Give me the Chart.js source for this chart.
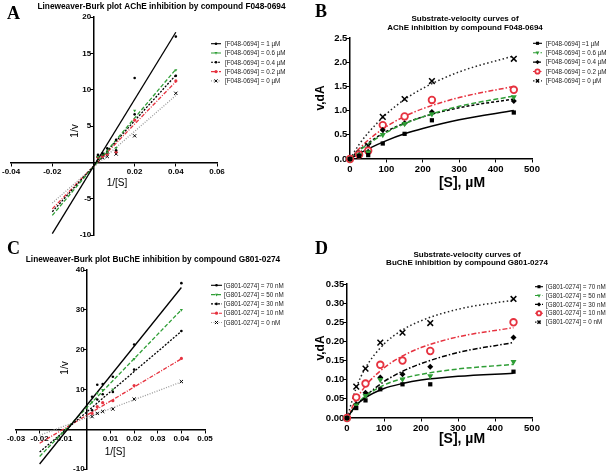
<!DOCTYPE html>
<html>
<head>
<meta charset="utf-8">
<script src="https://cdn.jsdelivr.net/npm/chart.js@4.4.1/dist/chart.umd.min.js"></script>
<style>
html, body { margin: 0; padding: 0; background: #fff; }
#wrap { position: relative; width: 614px; height: 476px; overflow: hidden; }
canvas { position: absolute; left: 0; top: 0; }
</style>
</head>
<body>
<div id="wrap">
  <canvas id="cA" width="614" height="476"></canvas>
  <canvas id="cB" width="614" height="476"></canvas>
  <canvas id="cC" width="614" height="476"></canvas>
  <canvas id="cD" width="614" height="476"></canvas>
</div>
<script>
// ---- values ----
const invS = [0.04, 0.02, 0.011, 0.0067, 0.0044, 0.0022];   // 1/[S] of the measured points
const fitX = [-0.02, 0.04];                                  // ends of the Lineweaver-Burk fits
const sPts = [0, 25, 50, 90, 150, 225, 450];                 // [S], uM
const sFit = [0, 25, 50, 100, 150, 200, 300, 450];           // where the fitted curves were read

// A : AChE, F048-0694
const aLabels = ['[F048-0694] = 1 µM', '[F048-0694] = 0.6 µM', '[F048-0694] = 0.4 µM', '[F048-0694] = 0.2 µM', '[F048-0694] = 0 µM'];
const aPts = [
  [17.3, 11.6, 3.1, 1.92, 1.25, 1.04],
  [12.7, 7.1, 2.0, 1.37, 1.08, 0.78],
  [11.9, 6.6, 1.67, 1.35, 1.03, 0.83],
  [11.2, 5.8, 1.43, 1.14, 0.82, 0.70],
  [9.5, 3.65, 1.15, 0.81, 0.62, 0.48]
];
const aFit = [[-9.8, 17.9], [-7.3, 12.8], [-6.8, 12.0], [-6.4, 11.1], [-5.6, 9.2]];

// B : AChE substrate-velocity
const bLabels = ['[F048-0694] =1 µM', '[F048-0694] = 0.6 µM', '[F048-0694] = 0.4 µM', '[F048-0694] = 0.2 µM', '[F048-0694] = 0 µM'];
const bPts = [
  [0, 0.06, 0.08, 0.32, 0.52, 0.80, 0.96],
  [0, 0.08, 0.14, 0.50, 0.73, 0.93, 1.28],
  [0, 0.085, 0.15, 0.60, 0.74, 0.97, 1.20],
  [0, 0.09, 0.17, 0.70, 0.88, 1.22, 1.43],
  [0, 0.11, 0.27, 0.87, 1.24, 1.61, 2.07]
];
const bFit = [
  [0, 0.11, 0.21, 0.38, 0.52, 0.63, 0.81, 1.00],
  [0, 0.17, 0.31, 0.55, 0.73, 0.87, 1.09, 1.30],
  [0, 0.18, 0.33, 0.57, 0.74, 0.87, 1.06, 1.24],
  [0, 0.21, 0.39, 0.67, 0.88, 1.04, 1.27, 1.50],
  [0, 0.30, 0.54, 0.93, 1.23, 1.46, 1.80, 2.13]
];

// C : BuChE, G801-0274
const cLabels = ['[G801-0274] = 70 nM', '[G801-0274] = 50 nM', '[G801-0274] = 30 nM', '[G801-0274] = 10 nM', '[G801-0274] = 0 nM'];
const cPts = [
  [36.7, 21.3, 13.2, 11.4, 11.2, 8.2],
  [30.0, 17.7, 10.0, 9.9, 9.1, 6.8],
  [24.7, 15.0, 9.4, 8.8, 7.5, 4.8],
  [17.8, 11.0, 7.2, 6.7, 5.7, 4.0],
  [12.0, 7.6, 5.1, 4.5, 4.0, 3.2]
];
const cFit = [[-8.7, 35.6], [-6.8, 30.0], [-5.7, 24.6], [-3.5, 17.7], [-1.5, 11.9]];

// D : BuChE substrate-velocity
const dLabels = cLabels;
const dPts = [
  [0, 0.026, 0.046, 0.075, 0.088, 0.088, 0.121],
  [0, 0.033, 0.058, 0.100, 0.101, 0.110, 0.147],
  [0, 0.036, 0.066, 0.106, 0.114, 0.134, 0.210],
  [0, 0.054, 0.090, 0.139, 0.150, 0.175, 0.250],
  [0, 0.082, 0.129, 0.197, 0.223, 0.248, 0.311]
];
const dFit = [
  [0, 0.033, 0.053, 0.077, 0.090, 0.099, 0.109, 0.117],
  [0, 0.034, 0.057, 0.086, 0.103, 0.114, 0.128, 0.140],
  [0, 0.032, 0.057, 0.095, 0.122, 0.142, 0.171, 0.197],
  [0, 0.048, 0.084, 0.131, 0.162, 0.184, 0.212, 0.236],
  [0, 0.079, 0.131, 0.193, 0.230, 0.254, 0.284, 0.308]
];

// ---- styles ----
const GREEN = '#2f9e36', RED = '#e6323f';
const lbStyle = [
  {color: '#000', dash: [], marker: 'circle', r: 1.3, fill: '#000', mc: '#000', mbw: 0},
  {color: GREEN, dash: [4, 2], marker: 'triangle', r: 1.8, rot: 180, fill: GREEN, mc: GREEN, mbw: 0},
  {color: '#000', dash: [2, 1.5], marker: 'circle', r: 1.3, fill: '#000', mc: '#000', mbw: 0},
  {color: RED, dash: [4, 1.5, 1, 1.5], marker: 'circle', r: 1.6, fill: RED, mc: RED, mbw: 0},
  {color: '#9a9a9a', dash: [1, 1.5], marker: 'crossRot', r: 2.3, fill: '#000', mc: '#000', mbw: 1}
];
const mmStyle = [
  {color: '#000', dash: [], marker: 'rect', r: 3, fill: '#000', mc: '#000', mbw: 0},
  {color: GREEN, dash: [5, 2.5], marker: 'triangle', r: 3.5, rot: 180, fill: GREEN, mc: GREEN, mbw: 0},
  {color: '#000', dash: [3, 2], marker: 'rectRot', r: 3, fill: '#000', mc: '#000', mbw: 0},
  {color: RED, dash: [5, 2, 1.5, 2], marker: 'circle', r: 3.3, fill: '#fff', mc: RED, mbw: 1.8},
  {color: '#222', dash: [1.5, 2.5], marker: 'crossRot', r: 4, fill: '#000', mc: '#000', mbw: 1.5}
];
const mmStyleD = mmStyle.map((s, i) => i === 2 ? Object.assign({}, s, {dash: [5, 2, 1.5, 2]}) : s);

Chart.defaults.font.family = '"Liberation Sans", Arial, sans-serif';
Chart.defaults.color = '#000';

// -- build line + marker datasets for one panel --
function buildSets(labels, fxs, fits, pxs, pts, styles, curved) {
  let out = [];
  labels.forEach((lab, i) => {
    let st = styles[i];
    out.push({
      label: lab + ' (fit)',
      data: fxs.map((x, j) => ({x: x, y: fits[i][j]})),
      showLine: true,
      borderColor: st.color,
      borderWidth: curved ? 1.5 : 1.3,
      borderDash: st.dash,
      cubicInterpolationMode: curved ? 'monotone' : 'default',
      pointRadius: 0,
      order: 2,
      clip: false
    });
    out.push({
      label: lab,
      data: pxs.map((x, j) => ({x: x, y: pts[i][j]})),
      showLine: false,
      pointStyle: st.marker,
      pointRadius: st.r,
      pointRotation: st.rot || 0,
      pointBackgroundColor: st.fill,
      pointBorderColor: st.mc,
      pointBorderWidth: st.mbw,
      order: 1,
      clip: false
    });
  });
  return out;
}

function scales(xmin, xmax, xstep, ymin, ymax, ystep, xfmt, yfmt, size) {
  let grid = {drawOnChartArea: false, drawTicks: true, tickLength: 3, color: '#000', lineWidth: 1};
  let border = {color: '#000', width: 1.5};
  return {
    x: {type: 'linear', min: xmin, max: xmax, position: {y: 0}, grid: grid, border: border,
        ticks: {stepSize: xstep, autoSkip: false, maxRotation: 0, padding: 2, color: '#000',
                font: {size: size, weight: 'bold'}, callback: xfmt}},
    y: {type: 'linear', min: ymin, max: ymax, position: {x: 0}, grid: grid, border: border,
        ticks: {stepSize: ystep, autoSkip: false, padding: 2, color: '#000',
                font: {size: size, weight: 'bold'}, callback: (v) => { let t = yfmt(v); return t === '' ? '' : t + ' '; }}}
  };
}

const noZero = (d) => (v) => Math.abs(v) < 1e-9 ? '' : (d >= 0 ? v.toFixed(d) : String(Math.round(v)));
const fixed = (d) => (v) => v.toFixed(d);

// panel letter, titles and legend drawn on top
const deco = {
  id: 'deco',
  afterDraw(chart, args, o) {
    const ctx = chart.ctx;
    ctx.save();
    ctx.fillStyle = '#000';
    ctx.textBaseline = 'alphabetic';
    ctx.textAlign = 'left';
    ctx.font = 'bold 18px "Liberation Serif", serif';
    ctx.fillText(o.letter[0], o.letter[1], o.letter[2]);

    ctx.font = o.titleFont;
    ctx.textAlign = 'center';
    ctx.textBaseline = 'middle';
    o.title.forEach((t, i) => ctx.fillText(t, o.titleX, o.titleY + i * o.titleLH));

    ctx.font = o.xFont;
    ctx.fillText(o.xTitle[0], o.xTitle[1], o.xTitle[2]);
    ctx.font = o.yFont;
    ctx.save();
    ctx.translate(o.yTitle[1], o.yTitle[2]);
    ctx.rotate(-Math.PI / 2);
    ctx.fillText(o.yTitle[0], 0, 0);
    ctx.restore();

    const L = o.legend;
    const ds = chart.data.datasets;
    ctx.font = '6.3px "Liberation Sans", Arial, sans-serif';
    ctx.textAlign = 'left';
    for (let i = 0; i < ds.length / 2; i++) {
      const line = ds[i * 2], pts = ds[i * 2 + 1];
      const y = L.y + i * L.dy;
      ctx.save();
      ctx.strokeStyle = line.borderColor;
      ctx.lineWidth = 1.1;
      ctx.setLineDash(line.borderDash);
      ctx.beginPath();
      ctx.moveTo(L.x, y);
      ctx.lineTo(L.x + L.len, y);
      ctx.stroke();
      ctx.setLineDash([]);
      ctx.fillStyle = pts.pointBackgroundColor;
      ctx.strokeStyle = pts.pointBorderColor;
      ctx.lineWidth = pts.pointBorderWidth;
      if (Chart.helpers && Chart.helpers.drawPoint) {
        Chart.helpers.drawPoint(ctx, {pointStyle: pts.pointStyle, radius: Math.min(pts.pointRadius, 2.2),
          rotation: pts.pointRotation, borderWidth: pts.pointBorderWidth}, L.x + L.len / 2, y);
      }
      ctx.restore();
      ctx.fillStyle = '#222';
      ctx.fillText(pts.label, L.tx, y + 0.5);
    }
    ctx.restore();
  }
};

function makeChart(id, sets, sc, pad, decoOpts) {
  return new Chart(document.getElementById(id), {
    type: 'scatter',
    data: {datasets: sets},
    options: {
      responsive: false,
      animation: false,
      events: [],
      layout: {padding: pad},
      scales: sc,
      plugins: {legend: {display: false}, tooltip: {enabled: false}, deco: decoOpts}
    },
    plugins: [deco]
  });
}

const lbText = {titleFont: 'bold 8.3px "Liberation Sans", Arial, sans-serif',
  xFont: '10px "Liberation Sans", Arial, sans-serif', yFont: '10px "Liberation Sans", Arial, sans-serif'};
const mmText = {titleFont: 'bold 8px "Liberation Sans", Arial, sans-serif',
  xFont: 'bold 14px "Liberation Sans", Arial, sans-serif', yFont: 'bold 12px "Liberation Sans", Arial, sans-serif'};

// A
makeChart('cA',
  buildSets(aLabels, fitX, aFit, invS, aPts, lbStyle, false),
  scales(-0.04, 0.06, 0.02, -10, 20, 5, noZero(2), noZero(-1), 8),
  {left: 11, top: 17, right: 397, bottom: 241},
  Object.assign({letter: ['A', 7, 18.5], title: ['Lineweaver-Burk plot AChE inhibition by compound F048-0694'], titleX: 161.5, titleY: 7, titleLH: 9,
   xTitle: ['1/[S]', 117, 183], yTitle: ['1/v', 75, 131],
   legend: {x: 211, len: 10, tx: 225, y: 43.7, dy: 9.3}}, lbText));

// B
makeChart('cB',
  buildSets(bLabels, sFit, bFit, sPts, bPts, mmStyle, true),
  scales(0, 500, 100, 0, 2.5, 0.5, fixed(0), fixed(1), 9.5),
  {left: 350, top: 38, right: 82, bottom: 317},
  Object.assign({letter: ['B', 315, 17], title: ['Substrate-velocity curves of', 'AChE inhibition by compound F048-0694'], titleX: 465, titleY: 18.3, titleLH: 9,
   xTitle: ['[S], µM', 462, 183], yTitle: ['v,dA', 321, 98],
   legend: {x: 533, len: 9, tx: 546, y: 43.3, dy: 9.4}}, mmText));

// C
makeChart('cC',
  buildSets(cLabels, fitX, cFit, invS, cPts, lbStyle, false),
  scales(-0.03, 0.05, 0.01, -10, 40, 10, noZero(2), noZero(-1), 8),
  {left: 16, top: 270, right: 409, bottom: 5},
  Object.assign({letter: ['C', 7, 254], title: ['Lineweaver-Burk plot BuChE inhibition by compound G801-0274'], titleX: 153, titleY: 260, titleLH: 9,
   xTitle: ['1/[S]', 115, 452], yTitle: ['1/v', 65, 368],
   legend: {x: 211, len: 11, tx: 224, y: 285.3, dy: 9.3}}, lbText));

// D
makeChart('cD',
  buildSets(dLabels, sFit, dFit, sPts, dPts, mmStyleD, true),
  scales(0, 500, 100, 0, 0.35, 0.05, fixed(0), fixed(2), 9.5),
  {left: 347, top: 284, right: 82, bottom: 58},
  Object.assign({letter: ['D', 315, 254], title: ['Substrate-velocity curves of', 'BuChE inhibition by compound G801-0274'], titleX: 467, titleY: 254.3, titleLH: 8.5,
   xTitle: ['[S], µM', 462, 439], yTitle: ['v,dA', 321, 348],
   legend: {x: 535, len: 8, tx: 546, y: 286.7, dy: 8.85}}, mmText));
</script>
</body>
</html>
